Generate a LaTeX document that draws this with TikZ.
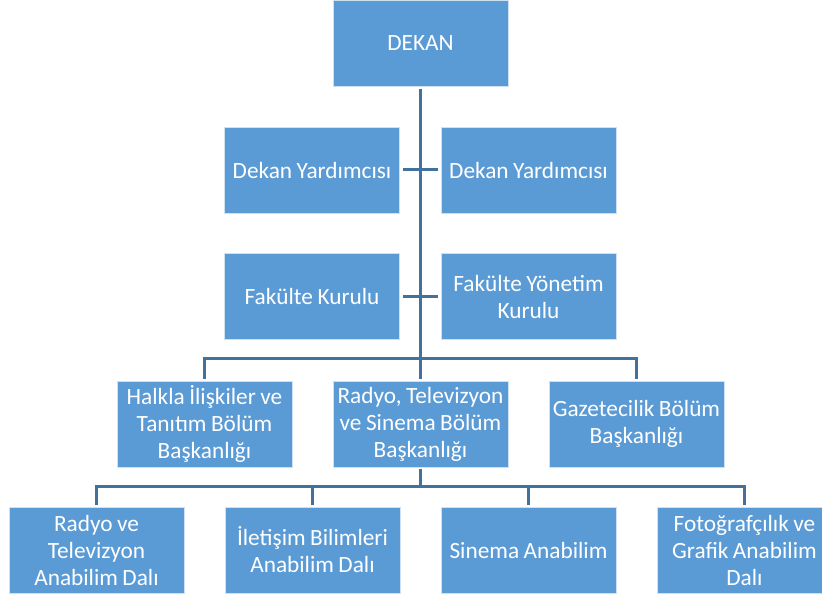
\documentclass[tikz,border=0pt]{standalone}
\usepackage{fontspec}
\setmainfont{Carlito}[WordSpace=0.85]
\definecolor{boxblue}{HTML}{5B9BD5}
\definecolor{lineblue}{HTML}{41719C}
\begin{document}
\begin{tikzpicture}[x=1pt,y=-1pt,
  orgbox/.style={draw=white!70!boxblue, line width=0.8pt, fill=boxblue, text=white,
    minimum width=175pt, minimum height=86pt, inner sep=2pt, align=center,
    font=\fontsize{23.3}{27}\selectfont},
  conn/.style={draw=lineblue, line width=3pt}]
\useasboundingbox (0,0) rectangle (822,596);
\clip (0,0) rectangle (822,596);
\node[orgbox] (dekan) at (420.5,43.5) {DEKAN};
\node[orgbox] (dy1) at (312,170) {Dekan Yardımcısı};
\node[orgbox] (dy2) at (528.5,170) {Dekan Yardımcısı};
\node[orgbox] (fk) at (312,296.5) {Fakülte Kurulu};
\node[orgbox] (fyk) at (528.5,296.5) {Fakülte Yönetim\\Kurulu};
\node[orgbox] (b1) at (204.5,424) {Halkla İlişkiler ve\\Tanıtım Bölüm\\Başkanlığı};
\node[orgbox] (b2) at (420.5,424) {Radyo, Televizyon\\ve Sinema Bölüm\\Başkanlığı};
\node[orgbox] (b3) at (636.5,424) {Gazetecilik Bölüm\\Başkanlığı};
\node[orgbox] (a1) at (96.5,550) {Radyo ve\\Televizyon\\Anabilim Dalı};
\node[orgbox] (a2) at (312.5,550) {İletişim Bilimleri\\Anabilim Dalı};
\node[orgbox] (a3) at (528.5,550) {Sinema Anabilim};
\node[orgbox] (a4) at (744.5,550) {Fotoğrafçılık ve\\Grafik Anabilim\\Dalı};
\coordinate (j1) at (420.5,358);
\coordinate (j2) at (420.5,486);
\draw[conn, shorten <=2pt] (dekan.south) -- (j1);
\draw[conn, shorten <=3pt, shorten >=3pt] (dy1.east) -- (dy2.west);
\draw[conn, shorten <=3pt, shorten >=3pt] (fk.east) -- (fyk.west);
\draw[conn, shorten <=2pt, shorten >=2pt] (b1.north) |- (j1) -| (b3.north);
\draw[conn, shorten >=2pt] (j1) -- (b2.north);
\draw[conn, shorten <=2pt] (b2.south) -- (j2);
\draw[conn, shorten <=2pt, shorten >=2pt] (a1.north) |- (j2) -| (a4.north);
\draw[conn, shorten <=2pt] (a2.north) |- (j2);
\draw[conn, shorten <=2pt] (a3.north) |- (j2);
\end{tikzpicture}
\end{document}
